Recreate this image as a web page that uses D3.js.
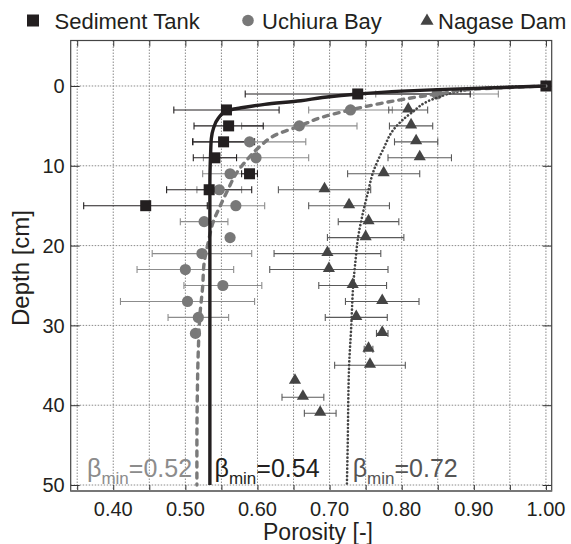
<!DOCTYPE html>
<html>
<head>
<meta charset="utf-8">
<script src="https://cdn.jsdelivr.net/npm/d3@7"></script>
<style>
  body { margin: 0; background: #fff; }
  text { font-family: "Liberation Sans", Arial, sans-serif; }
</style>
</head>
<body>
<div id="chart"></div>
<script>
// measured samples (porosity vs depth)
var tankDepth = [0, 1, 3, 5, 7, 9, 11, 13, 15];
var tankPorosity = [1.00, 0.739, 0.557, 0.560, 0.553, 0.541, 0.589, 0.533, 0.445];
var tankErr = [0, 0.156, 0.073, 0.048, 0.043, 0.030, 0.011, 0.059, 0.086];

var bayDepth = [1, 3, 5, 7, 9, 11, 13, 15, 17, 19, 21, 23, 25, 27, 29, 31];
var bayPorosity = [0.849, 0.729, 0.658, 0.589, 0.598, 0.562, 0.547, 0.570, 0.526, 0.562, 0.523, 0.500, 0.552, 0.503, 0.518, 0.514];
var bayErr = [0.085, 0.058, 0.080, 0.078, 0.073, 0.038, 0.031, 0.040, 0.033, 0.005, 0.069, 0.067, 0.054, 0.093, 0.042, 0];

var damDepth = [3, 5, 7, 9, 11, 13, 15, 17, 19, 21, 23, 25, 27, 29, 31, 33, 35, 37, 39, 41];
var damPorosity = [0.809, 0.813, 0.820, 0.825, 0.775, 0.693, 0.727, 0.754, 0.750, 0.697, 0.699, 0.732, 0.773, 0.737, 0.773, 0.754, 0.756, 0.652, 0.663, 0.687];
var damErr = [0.027, 0.030, 0.030, 0.044, 0.050, 0.064, 0.056, 0.042, 0.053, 0.074, 0.082, 0.047, 0.051, 0.043, 0.008, 0.006, 0.049, 0, 0.029, 0.022];

// fitted curves
var tankFitPorosity = [1.00, 0.92, 0.85, 0.80, 0.74, 0.69, 0.66, 0.61, 0.58, 0.557, 0.546, 0.539, 0.536, 0.535, 0.534, 0.534];
var tankFitDepth = [0, 0.25, 0.45, 0.65, 1.0, 1.45, 1.85, 2.3, 2.7, 3.1, 4.0, 5.3, 6.6, 8.5, 12, 50];

var bayFitPorosity = [1.00, 0.93, 0.90, 0.857, 0.80, 0.77, 0.729, 0.69, 0.659, 0.626, 0.603, 0.585, 0.571, 0.559, 0.550, 0.538, 0.532, 0.526, 0.524, 0.520, 0.518, 0.5165, 0.516, 0.516];
var bayFitDepth = [0, 0.25, 0.4, 0.9, 1.7, 2.2, 3.0, 3.9, 5.0, 6.1, 7.6, 9.3, 10.9, 13, 14.7, 17.2, 19.5, 22.2, 25.1, 28.9, 33, 39.3, 45.6, 50];

var damFitPorosity = [1.00, 0.92, 0.885, 0.848, 0.813, 0.792, 0.774, 0.760, 0.753, 0.746, 0.739, 0.736, 0.733, 0.730, 0.727, 0.725, 0.724];
var damFitDepth = [0, 0.2, 0.6, 1.5, 3.4, 5.1, 8.0, 10.9, 13.4, 16, 19.3, 21.8, 24.7, 30.2, 35.2, 45.6, 50];

var seriesNames = ["Sediment Tank", "Uchiura Bay", "Nagase Dam"];
var betaLabels = ["0.52", "0.54", "0.72"];
var xTickValues = [0.40, 0.50, 0.60, 0.70, 0.80, 0.90, 1.00];
var yTickValues = [0, 10, 20, 30, 40, 50];

//// set the dimensions and margins of the graph
var svgWidth = 571;
var svgHeight = 544;
var margin = { top: 40.5, right: 19.3, bottom: 53, left: 70.7 };
var width = svgWidth - margin.left - margin.right;
var height = svgHeight - margin.top - margin.bottom;

var svg = d3.select("#chart")
  .append("svg")
  .attr("width", svgWidth)
  .attr("height", svgHeight);

var chartGroup = svg.append("g")
  .attr("transform", `translate(${margin.left}, ${margin.top})`);

// Step 1: scales
var xScale = d3.scaleLinear().domain([0.341, 1.008]).range([0, width]);
var yScale = d3.scaleLinear().domain([-5.7, 50.75]).range([0, height]);

var minorX = d3.range(0.35, 1.001, 0.05);

// Step 2: grid
chartGroup.append("g")
  .selectAll("line")
  .data(minorX)
  .enter()
  .append("line")
    .attr("x1", d => xScale(d)).attr("x2", d => xScale(d))
    .attr("y1", 0).attr("y2", height)
    .attr("stroke", "#8a8a8a")
    .attr("stroke-width", 1)
    .attr("stroke-dasharray", "1.5,1.5");

chartGroup.append("g")
  .selectAll("line")
  .data(yTickValues)
  .enter()
  .append("line")
    .attr("x1", 0).attr("x2", width)
    .attr("y1", d => yScale(d)).attr("y2", d => yScale(d))
    .attr("stroke", "#8a8a8a")
    .attr("stroke-width", 1)
    .attr("stroke-dasharray", "1.5,1.5");

// Step 3: axes (ticks inside the box)
var bottomAxis = d3.axisBottom(xScale).tickValues(minorX).tickSize(-6).tickFormat("");
var topAxis = d3.axisTop(xScale).tickValues(minorX).tickSize(-6).tickFormat("");
var leftAxis = d3.axisLeft(yScale).tickValues(yTickValues).tickSize(-9).tickFormat("");
var rightAxis = d3.axisRight(yScale).tickValues(yTickValues).tickSize(-9).tickFormat("");

chartGroup.append("g").attr("transform", `translate(0, ${height})`).call(bottomAxis);
chartGroup.append("g").call(topAxis);
chartGroup.append("g").call(leftAxis);
chartGroup.append("g").attr("transform", `translate(${width}, 0)`).call(rightAxis);
chartGroup.selectAll(".domain").remove();
chartGroup.selectAll(".tick line").attr("stroke", "#333");

// tick labels
chartGroup.append("g")
  .selectAll("text")
  .data(xTickValues)
  .enter()
  .append("text")
    .attr("x", d => xScale(d))
    .attr("y", height + 24.5)
    .attr("text-anchor", "middle")
    .attr("font-size", "20px")
    .attr("fill", "#231f20")
    .text(d => d3.format(".2f")(d));

chartGroup.append("g")
  .selectAll("text")
  .data(yTickValues)
  .enter()
  .append("text")
    .attr("x", -6)
    .attr("y", d => yScale(d))
    .attr("dy", "0.36em")
    .attr("text-anchor", "end")
    .attr("font-size", "20px")
    .attr("fill", "#231f20")
    .text(d => d);

// box
chartGroup.append("rect")
  .attr("width", width).attr("height", height)
  .attr("fill", "none")
  .attr("stroke", "#444")
  .attr("stroke-width", 1.2);
chartGroup.append("line")
  .attr("x1", 0).attr("x2", width)
  .attr("y1", height).attr("y2", height)
  .attr("stroke", "#777")
  .attr("stroke-width", 2.2);

// Step 4: error bars + markers
function toRows(depth, por, err) {
  return depth.map(function(d, i) { return { depth: d, porosity: por[i], err: err[i] }; });
}
var tankData = toRows(tankDepth, tankPorosity, tankErr);
var bayData = toRows(bayDepth, bayPorosity, bayErr);
var damData = toRows(damDepth, damPorosity, damErr);

function drawErrors(data, color) {
  var g = chartGroup.append("g").attr("stroke", color).attr("stroke-width", 1.1).attr("fill", "none");
  var rows = data.filter(d => d.err > 0);
  g.selectAll("line.bar").data(rows).enter().append("line")
    .attr("x1", d => xScale(d.porosity - d.err)).attr("x2", d => xScale(d.porosity + d.err))
    .attr("y1", d => yScale(d.depth)).attr("y2", d => yScale(d.depth));
  g.selectAll("line.lo").data(rows).enter().append("line")
    .attr("x1", d => xScale(d.porosity - d.err)).attr("x2", d => xScale(d.porosity - d.err))
    .attr("y1", d => yScale(d.depth) - 3.5).attr("y2", d => yScale(d.depth) + 3.5);
  g.selectAll("line.hi").data(rows).enter().append("line")
    .attr("x1", d => xScale(d.porosity + d.err)).attr("x2", d => xScale(d.porosity + d.err))
    .attr("y1", d => yScale(d.depth) - 3.5).attr("y2", d => yScale(d.depth) + 3.5);
}
drawErrors(bayData, "#8c8c8c");
drawErrors(damData, "#5a5a5a");
drawErrors(tankData, "#231f20");

chartGroup.append("g")
  .selectAll("circle")
  .data(bayData)
  .enter()
  .append("circle")
    .attr("cx", d => xScale(d.porosity))
    .attr("cy", d => yScale(d.depth))
    .attr("r", 5.6)
    .attr("fill", "#787878");

chartGroup.append("g")
  .selectAll("path")
  .data(damData)
  .enter()
  .append("path")
    .attr("d", d3.symbol().type(d3.symbolTriangle).size(64))
    .attr("transform", d => `translate(${xScale(d.porosity)}, ${yScale(d.depth) - 1})`)
    .attr("fill", "#444");

chartGroup.append("g")
  .selectAll("rect")
  .data(tankData)
  .enter()
  .append("rect")
    .attr("x", d => xScale(d.porosity) - 5.5)
    .attr("y", d => yScale(d.depth) - 5.5)
    .attr("width", 11).attr("height", 11)
    .attr("fill", "#231f20");

// Step 5: fitted curves on top
function drawFit(por, depth, color, widthPx, dash) {
  var pts = depth.map(function(d, i) { return [por[i], d]; });
  var line = d3.line()
    .x(p => xScale(p[0]))
    .y(p => yScale(p[1]))
    .curve(d3.curveMonotoneY);
  chartGroup.append("path")
    .datum(pts)
    .attr("d", line)
    .attr("fill", "none")
    .attr("stroke", color)
    .attr("stroke-width", widthPx)
    .attr("stroke-linecap", dash ? "round" : "butt")
    .attr("stroke-dasharray", dash || null);
}
drawFit(damFitPorosity, damFitDepth, "#444", 2.6, "0.1,3.6");
drawFit(bayFitPorosity, bayFitDepth, "#7a7a7a", 3.4, "5,6");
drawFit(tankFitPorosity, tankFitDepth, "#231f20", 3.4, null);

// beta_min labels
var betaX = [87, 214.5, 352.7];
var betaColors = ["#8c8c8c", "#231f20", "#555"];
betaLabels.forEach(function(b, i) {
  var t = svg.append("text")
    .attr("x", betaX[i])
    .attr("y", 477)
    .attr("font-size", "25px")
    .attr("fill", betaColors[i]);
  t.append("tspan").text("\u03b2");
  t.append("tspan").attr("font-size", "17px").attr("dy", 7).text("min");
  t.append("tspan").attr("dy", -7).text("=" + b);
});

// axis titles
svg.append("text")
  .attr("x", 318)
  .attr("y", 540)
  .attr("text-anchor", "middle")
  .attr("font-size", "23px")
  .attr("fill", "#231f20")
  .text("Porosity [-]");

svg.append("text")
  .attr("transform", "translate(29, 268) rotate(-90)")
  .attr("text-anchor", "middle")
  .attr("font-size", "24px")
  .attr("fill", "#231f20")
  .text("Depth [cm]");

// Step 6: legend
var legend = svg.append("g").attr("font-size", "22px").attr("fill", "#231f20");
legend.append("rect").attr("x", 27).attr("y", 14.5).attr("width", 12).attr("height", 12).attr("fill", "#231f20");
legend.append("circle").attr("cx", 248).attr("cy", 20.5).attr("r", 5.8).attr("fill", "#787878");
legend.append("path")
  .attr("d", d3.symbol().type(d3.symbolTriangle).size(75))
  .attr("transform", "translate(427, 21)")
  .attr("fill", "#444");
var legendX = [54.5, 262, 438];
legend.selectAll("text")
  .data(seriesNames)
  .enter()
  .append("text")
    .attr("x", (d, i) => legendX[i])
    .attr("y", 28.5)
    .text(d => d);
</script>
</body>
</html>
